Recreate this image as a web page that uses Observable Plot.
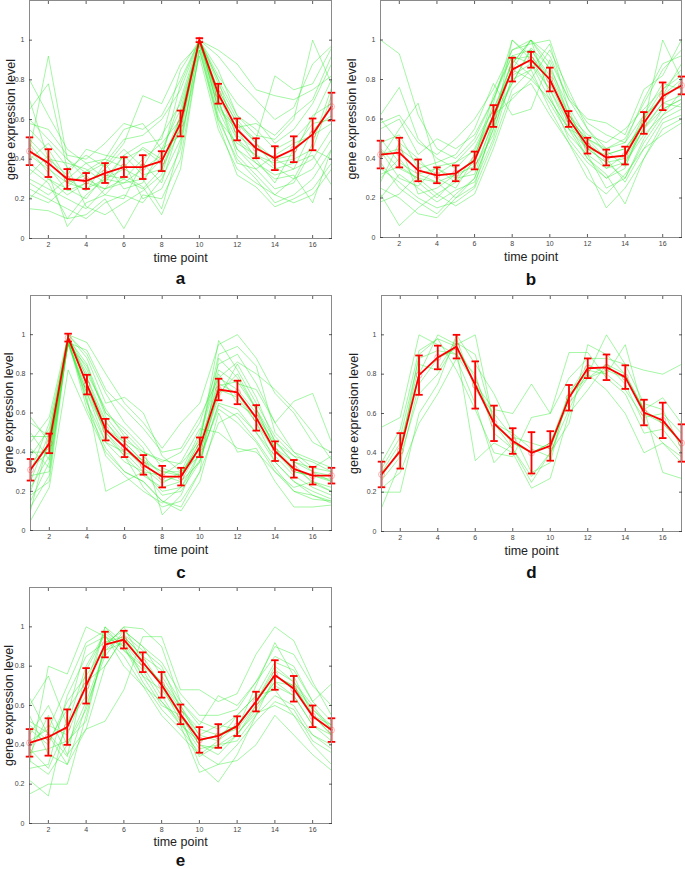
<!DOCTYPE html>
<html>
<head>
<meta charset="utf-8">
<script src="https://cdn.jsdelivr.net/npm/d3@7"></script>
<script src="https://cdn.jsdelivr.net/npm/@observablehq/plot@0.6"></script>
<style>
  html, body { margin: 0; padding: 0; background: #fff; }
  #root { position: relative; width: 685px; height: 869px; overflow: hidden; font-family: "Liberation Sans", Arial, sans-serif; }
  .panel { position: absolute; }
</style>
</head>
<body>
<div id="root"></div>
<script>
// ---------- data ----------
const timePoints = [1,2,3,4,5,6,7,8,9,10,11,12,13,14,15,16,17];
const xTicks = [2,4,6,8,10,12,14,16];
const yTicks = [0,0.2,0.4,0.6,0.8,1];
const panelLetters = ["a","b","c","d","e"];
const xLabel = "time point";
const yLabel = "gene expression level";

const aLines = [
  [0.80,0.62,0.45,0.38,0.30,0.42,0.48,0.50,0.85,1.00,0.92,0.80,0.70,0.60,0.66,0.88,0.97],
  [0.44,0.92,0.40,0.30,0.25,0.28,0.35,0.42,0.70,1.00,0.85,0.62,0.55,0.45,0.50,0.60,0.80],
  [0.65,0.78,0.35,0.42,0.36,0.48,0.72,0.68,0.88,0.98,0.75,0.58,0.50,0.82,0.75,0.78,0.96],
  [0.30,0.25,0.20,0.15,0.25,0.30,0.25,0.35,0.55,1.00,0.70,0.45,0.38,0.32,0.35,0.40,0.55],
  [0.15,0.14,0.10,0.12,0.20,0.05,0.22,0.20,0.40,0.95,0.60,0.40,0.30,0.18,0.22,0.30,0.45],
  [0.55,0.45,0.30,0.38,0.40,0.55,0.58,0.45,0.65,1.00,0.80,0.50,0.42,0.38,0.40,0.45,0.72],
  [0.38,0.30,0.25,0.20,0.32,0.30,0.40,0.48,0.60,1.00,0.65,0.55,0.40,0.28,0.45,0.58,0.60],
  [0.25,0.20,0.15,0.10,0.18,0.22,0.18,0.30,0.50,0.92,0.55,0.35,0.28,0.22,0.30,0.35,0.50],
  [0.60,0.50,0.40,0.33,0.38,0.50,0.52,0.60,0.75,1.00,0.82,0.68,0.60,0.48,0.55,0.68,0.88],
  [0.42,0.35,0.28,0.25,0.30,0.35,0.30,0.40,0.55,1.00,0.72,0.52,0.45,0.40,0.42,0.62,0.68],
  [0.20,0.30,0.22,0.28,0.25,0.38,0.20,0.25,0.45,1.00,0.65,0.45,0.35,0.25,0.28,0.45,0.40],
  [0.70,0.40,0.32,0.45,0.42,0.40,0.45,0.38,0.62,1.00,0.80,0.62,0.52,0.50,0.60,1.00,0.78],
  [0.35,0.28,0.10,0.22,0.30,0.28,0.30,0.15,0.48,0.97,0.60,0.48,0.42,0.35,0.38,0.42,0.27],
  [0.50,0.40,0.38,0.35,0.28,0.42,0.32,0.35,0.60,1.00,0.75,0.58,0.48,0.40,0.35,0.55,0.62],
  [0.28,0.22,0.30,0.24,0.38,0.25,0.28,0.45,0.52,1.00,0.68,0.50,0.38,0.30,0.32,0.18,0.45],
  [0.45,0.33,0.06,0.18,0.22,0.32,0.26,0.12,0.35,0.95,0.58,0.32,0.26,0.16,0.20,0.25,0.38],
  [0.58,0.55,0.42,0.40,0.48,0.58,0.55,0.62,0.80,1.00,0.95,0.88,0.75,0.72,0.70,0.75,0.82],
  [0.32,0.42,0.28,0.32,0.22,0.20,0.38,0.28,0.58,1.00,0.70,0.42,0.32,0.22,0.18,0.22,0.35],
  [0.48,0.36,0.24,0.28,0.35,0.45,0.36,0.52,0.68,0.98,0.62,0.38,0.35,0.42,0.48,0.52,0.58],
  [0.40,0.48,0.36,0.16,0.12,0.18,0.24,0.32,0.62,1.00,0.78,0.60,0.48,0.36,0.30,0.48,0.76],
  [0.22,0.18,0.26,0.34,0.40,0.36,0.46,0.40,0.78,1.00,0.66,0.56,0.58,0.52,0.62,0.70,0.92]
];
const aMean = [0.44,0.38,0.30,0.29,0.33,0.36,0.36,0.39,0.58,1.00,0.73,0.55,0.455,0.405,0.45,0.525,0.665];
const aErr  = [0.07,0.07,0.05,0.04,0.05,0.05,0.06,0.05,0.065,0.01,0.05,0.055,0.05,0.06,0.065,0.08,0.07];

const bLines = [
  [1.00,0.93,0.62,0.45,0.40,0.50,0.70,0.95,1.00,0.92,0.70,0.55,0.45,0.50,0.68,0.85,0.95],
  [0.62,0.76,0.50,0.40,0.35,0.45,0.65,0.88,1.00,0.85,0.62,0.48,0.40,0.42,0.60,0.72,0.80],
  [0.40,0.55,0.68,0.35,0.30,0.38,0.62,0.90,0.92,0.78,0.58,0.45,0.38,0.40,0.55,0.68,0.72],
  [0.25,0.20,0.12,0.10,0.20,0.30,0.55,0.80,0.85,0.98,0.65,0.42,0.35,0.38,0.55,0.65,0.70],
  [0.45,0.35,0.30,0.28,0.32,0.40,0.68,1.00,0.90,0.75,0.55,0.40,0.30,0.35,0.60,0.75,0.85],
  [0.22,0.06,0.15,0.22,0.28,0.35,0.58,0.78,0.95,0.80,0.60,0.50,0.40,0.28,0.45,0.60,0.65],
  [0.60,0.48,0.40,0.30,0.25,0.40,0.72,0.92,0.88,0.70,0.55,0.45,0.42,0.45,0.58,1.00,0.80],
  [0.30,0.40,0.28,0.20,0.30,0.32,0.60,0.85,1.00,0.88,0.62,0.48,0.35,0.42,0.62,0.70,0.78],
  [0.48,0.52,0.35,0.38,0.42,0.55,0.78,0.62,0.65,0.90,0.70,0.60,0.58,0.52,0.75,0.82,1.00],
  [0.35,0.28,0.20,0.15,0.18,0.25,0.48,0.75,0.85,0.65,0.48,0.35,0.15,0.25,0.40,0.55,0.60],
  [0.42,0.45,0.38,0.32,0.38,0.48,0.65,0.85,0.80,0.70,0.55,0.50,0.45,0.48,0.62,0.78,0.75],
  [0.55,0.60,0.42,0.50,0.45,0.52,0.70,0.92,0.95,0.82,0.62,0.52,0.48,0.55,0.65,0.75,0.82],
  [0.20,0.32,0.25,0.18,0.24,0.28,0.50,0.82,0.88,0.75,0.58,0.40,0.32,0.17,0.40,0.58,0.62],
  [0.38,0.25,0.18,0.12,0.22,0.30,0.55,1.00,0.92,0.80,0.60,0.45,0.38,0.30,0.50,0.65,0.70],
  [0.50,0.38,0.32,0.35,0.28,0.42,0.62,0.70,0.80,0.95,0.75,0.55,0.42,0.45,0.58,0.72,0.88],
  [0.28,0.48,0.22,0.25,0.32,0.36,0.52,0.88,1.00,0.72,0.50,0.38,0.30,0.38,0.52,0.62,0.68],
  [0.32,0.36,0.30,0.22,0.16,0.22,0.45,0.72,0.78,0.62,0.48,0.30,0.22,0.32,0.45,0.52,0.58],
  [0.58,0.62,0.48,0.42,0.50,0.60,0.75,0.95,0.98,1.00,0.72,0.58,0.52,0.48,0.70,0.88,0.92],
  [0.18,0.22,0.32,0.28,0.20,0.26,0.58,0.90,0.82,0.68,0.52,0.42,0.25,0.30,0.48,0.62,0.74],
  [0.44,0.30,0.26,0.36,0.38,0.44,0.62,0.78,0.96,0.86,0.66,0.50,0.44,0.36,0.56,0.68,0.66]
];
const bMean = [0.42,0.43,0.34,0.315,0.325,0.39,0.615,0.85,0.90,0.80,0.60,0.465,0.405,0.415,0.58,0.715,0.77];
const bErr  = [0.07,0.075,0.055,0.04,0.04,0.045,0.055,0.06,0.04,0.06,0.04,0.04,0.04,0.045,0.055,0.07,0.045];

const cLines = [
  [0.58,0.45,1.00,0.96,0.80,0.65,0.55,0.42,0.55,0.65,0.95,1.00,0.88,0.70,0.60,0.45,0.40],
  [0.30,0.55,0.98,0.85,0.60,0.50,0.40,0.35,0.40,0.55,0.85,0.90,0.75,0.55,0.40,0.32,0.30],
  [0.05,0.22,0.82,0.60,0.40,0.30,0.25,0.15,0.12,0.30,0.55,0.60,0.50,0.35,0.25,0.18,0.15],
  [0.20,0.45,0.98,0.75,0.55,0.45,0.35,0.30,0.28,0.45,0.75,0.70,0.55,0.40,0.30,0.28,0.25],
  [0.40,0.40,0.95,0.70,0.45,0.40,0.30,0.20,0.22,0.40,0.70,0.80,0.62,0.42,0.32,0.25,0.22],
  [0.25,0.50,1.00,0.88,0.65,0.68,0.60,0.38,0.30,0.50,0.82,0.75,0.72,0.55,0.66,0.70,0.45],
  [0.15,0.35,0.96,0.72,0.50,0.38,0.28,0.22,0.25,0.35,0.65,0.62,0.50,0.38,0.28,0.22,0.18],
  [0.35,0.42,0.98,0.80,0.62,0.48,0.38,0.28,0.25,0.42,0.78,0.72,0.60,0.42,0.35,0.30,0.28],
  [0.48,0.48,0.95,0.68,0.20,0.25,0.30,0.18,0.20,0.35,0.72,0.68,0.55,0.35,0.25,0.20,0.16],
  [0.22,0.38,0.98,0.78,0.52,0.45,0.35,0.25,0.28,0.48,0.80,0.65,0.58,0.45,0.35,0.32,0.38],
  [0.55,0.48,0.97,0.65,0.45,0.35,0.30,0.28,0.35,0.52,0.50,0.42,0.40,0.30,0.20,0.18,0.14],
  [0.28,0.30,0.99,0.82,0.60,0.52,0.42,0.08,0.18,0.40,0.68,0.85,0.68,0.45,0.38,0.35,0.30],
  [0.38,0.52,0.96,0.70,0.50,0.40,0.36,0.30,0.30,0.38,0.62,0.55,0.45,0.30,0.22,0.25,0.20],
  [0.12,0.28,0.98,0.74,0.48,0.38,0.22,0.12,0.15,0.30,0.88,0.78,0.62,0.42,0.30,0.28,0.26],
  [0.45,0.58,1.00,0.90,0.70,0.55,0.45,0.32,0.28,0.45,0.97,0.82,0.65,0.48,0.38,0.30,0.25],
  [0.18,0.25,0.97,0.62,0.42,0.30,0.25,0.15,0.10,0.25,0.60,0.40,0.42,0.25,0.12,0.12,0.13],
  [0.42,0.32,0.96,0.92,0.72,0.62,0.52,0.40,0.42,0.58,0.78,0.86,0.80,0.72,0.62,0.50,0.36],
  [0.32,0.40,0.98,0.66,0.38,0.28,0.20,0.14,0.22,0.36,0.64,0.58,0.46,0.32,0.20,0.16,0.15],
  [0.10,0.48,0.95,0.84,0.58,0.46,0.40,0.36,0.34,0.46,0.90,0.94,0.84,0.50,0.40,0.36,0.32],
  [0.50,0.36,0.99,0.78,0.56,0.42,0.32,0.24,0.30,0.42,0.74,0.76,0.62,0.46,0.34,0.24,0.20]
];
const cMean = [0.31,0.445,0.985,0.745,0.515,0.425,0.335,0.275,0.275,0.425,0.72,0.705,0.575,0.405,0.315,0.28,0.28];
const cErr  = [0.055,0.05,0.02,0.05,0.055,0.05,0.05,0.055,0.045,0.05,0.055,0.06,0.065,0.05,0.045,0.045,0.04];

const dLines = [
  [0.53,0.58,1.00,0.95,0.90,0.75,0.62,0.60,0.75,0.60,0.78,0.88,0.88,0.85,0.82,0.80,0.85],
  [0.30,0.45,0.80,1.00,0.95,1.00,0.55,0.45,0.40,0.45,0.70,0.85,0.80,0.95,0.60,0.55,0.45],
  [0.20,0.20,0.60,0.75,1.00,0.85,0.70,0.50,0.30,0.35,0.72,0.80,1.00,0.85,0.65,0.62,0.42],
  [0.12,0.35,0.75,0.88,0.93,0.36,0.45,0.40,0.22,0.27,0.60,0.72,0.85,0.75,0.55,0.45,0.38],
  [0.35,0.52,0.92,0.98,0.82,0.62,0.40,0.38,0.58,0.60,0.91,0.91,0.78,0.70,0.50,0.52,0.40],
  [0.26,0.38,0.70,0.80,0.96,0.90,0.55,0.42,0.28,0.40,0.55,0.95,0.90,0.80,0.62,0.30,0.27],
  [0.28,0.42,0.85,0.82,0.98,0.72,0.60,0.48,0.45,0.42,0.68,0.80,0.72,0.60,0.40,0.45,0.35],
  [0.22,0.30,0.55,0.70,0.88,0.65,0.35,0.45,0.40,0.45,0.65,0.78,0.82,0.78,0.62,0.68,0.55],
  [0.32,0.48,0.88,0.92,0.90,0.80,0.50,0.42,0.25,0.40,0.62,0.82,0.80,0.72,0.58,0.60,0.50],
  [0.30,0.40,0.90,0.98,0.94,0.78,0.55,0.50,0.42,0.38,0.70,0.78,0.85,0.80,0.62,0.55,0.45]
];
const dMean = [0.29,0.41,0.795,0.885,0.94,0.745,0.55,0.46,0.40,0.435,0.68,0.83,0.835,0.785,0.605,0.565,0.45];
const dErr  = [0.065,0.09,0.10,0.06,0.06,0.12,0.09,0.065,0.105,0.075,0.065,0.05,0.065,0.06,0.065,0.09,0.095];

const eLines = [
  [0.64,0.45,0.30,0.48,0.52,0.68,0.95,0.95,0.68,0.68,0.62,0.66,0.86,1.00,0.93,0.72,0.55],
  [0.30,0.80,0.76,1.00,0.95,0.90,0.75,0.60,0.55,0.40,0.35,0.45,0.60,0.70,0.65,0.50,0.45],
  [0.15,0.20,0.20,0.55,0.90,1.00,0.82,0.70,0.55,0.30,0.21,0.35,0.55,0.75,0.70,0.55,0.50],
  [0.40,0.50,0.45,0.70,1.00,0.92,0.80,0.65,0.50,0.42,0.45,0.50,0.62,0.80,0.72,0.60,0.48],
  [0.55,0.35,0.30,0.60,0.85,0.98,0.90,0.75,0.60,0.45,0.50,0.48,0.70,0.92,0.75,0.55,0.45],
  [0.22,0.14,0.55,0.90,0.95,0.85,0.70,0.55,0.45,0.35,0.42,0.55,0.65,0.68,0.55,0.40,0.30],
  [0.48,0.40,0.62,0.75,0.90,1.00,0.99,0.90,0.62,0.50,0.65,0.60,0.72,0.85,0.80,0.62,0.71],
  [0.35,0.55,0.35,0.48,0.80,0.95,0.85,0.70,0.52,0.38,0.40,0.42,0.55,0.65,0.60,0.45,0.40],
  [0.60,0.75,0.50,0.65,1.00,0.88,0.78,0.62,0.50,0.26,0.30,0.32,0.40,0.55,0.45,0.35,0.27],
  [0.28,0.30,0.65,0.85,0.92,0.95,0.82,0.72,0.58,0.48,0.45,0.50,0.62,0.78,0.72,0.58,0.50],
  [0.45,0.60,0.40,0.62,0.88,0.92,0.75,0.68,0.55,0.40,0.38,0.45,0.58,0.72,0.65,0.50,0.42],
  [0.38,0.28,0.50,0.80,0.97,0.88,0.80,0.72,0.60,0.42,0.45,0.48,0.60,0.72,0.70,0.58,0.48],
  [0.50,0.42,0.58,0.72,0.80,0.95,0.85,0.78,0.62,0.52,0.48,0.55,0.65,0.82,0.78,0.62,0.52],
  [0.32,0.25,0.40,0.58,0.88,0.96,0.88,0.80,0.58,0.45,0.42,0.50,0.62,0.75,0.70,0.55,0.45],
  [0.42,0.48,0.70,0.92,0.98,0.90,0.72,0.58,0.48,0.36,0.30,0.40,0.52,0.62,0.58,0.42,0.36],
  [0.36,0.38,0.42,0.52,0.92,0.98,0.90,0.82,0.66,0.55,0.55,0.58,0.72,0.90,0.86,0.70,0.60],
  [0.52,0.46,0.34,0.78,0.96,0.80,0.70,0.62,0.52,0.34,0.40,0.46,0.56,0.60,0.55,0.45,0.38]
];
const eMean = [0.41,0.44,0.49,0.70,0.91,0.935,0.82,0.705,0.555,0.425,0.445,0.495,0.62,0.755,0.685,0.545,0.475];
const eErr  = [0.07,0.095,0.09,0.09,0.065,0.045,0.05,0.065,0.05,0.065,0.06,0.05,0.05,0.075,0.065,0.055,0.06];

// ---------- drawing ----------
const FONT = "Liberation Sans, Arial, sans-serif";

function panel(lines, mean, err, letter, g) {
  const green = lines.flatMap((row, id) => row.map((v, i) => ({id, t: timePoints[i], v})));
  const stats = mean.map((m, i) => ({t: timePoints[i], m, lo: m - err[i], hi: m + err[i]}));
  const capW = 0.2;
  const tickStyle = {stroke: "#333", strokeWidth: 0.8};
  const svg = Plot.plot({
    width: g.w, height: g.h,
    marginLeft: g.ml, marginRight: g.mr, marginTop: g.mt, marginBottom: g.mb,
    style: {fontFamily: FONT, background: "transparent", overflow: "visible"},
    x: {domain: [1, 17]},
    y: {domain: [0, 1.2]},
    marks: [
      Plot.line(green, {x: "t", y: "v", z: "id", stroke: "#30ea30", strokeWidth: 0.8, strokeOpacity: 0.55}),
      Plot.line(stats, {x: "t", y: "m", stroke: "#ff0000", strokeWidth: 1.8}),
      Plot.ruleX(stats, {x: "t", y1: "lo", y2: "hi", stroke: "#ff0000", strokeWidth: 1.8}),
      Plot.link(stats, {x1: d => d.t - capW, x2: d => d.t + capW, y1: "hi", y2: "hi", stroke: "#ff0000", strokeWidth: 1.8}),
      Plot.link(stats, {x1: d => d.t - capW, x2: d => d.t + capW, y1: "lo", y2: "lo", stroke: "#ff0000", strokeWidth: 1.8}),
      Plot.dot(stats, {x: "t", y: "m", r: 3, stroke: "#ff0000", strokeOpacity: 0.35, strokeWidth: 0.8}),
      Plot.frame({stroke: "#8a8a8a", strokeWidth: 1}),
      Plot.axisX({anchor: "bottom", ticks: xTicks, tickSize: 0, tickPadding: 4, fontSize: 7, color: "#444", label: null}),
      Plot.axisX({anchor: "bottom", ticks: xTicks, tickSize: -3, tickFormat: () => "", label: null, ...tickStyle}),
      Plot.axisX({anchor: "top", ticks: xTicks, tickSize: -3, tickFormat: () => "", label: null, ...tickStyle}),
      Plot.axisY({anchor: "left", ticks: yTicks, tickSize: 0, tickPadding: 5, fontSize: 7, color: "#444", label: null, tickFormat: d => String(+d.toFixed(1))}),
      Plot.axisY({anchor: "left", ticks: yTicks, tickSize: -3, tickFormat: () => "", label: null, ...tickStyle}),
      Plot.axisY({anchor: "right", ticks: yTicks, tickSize: -3, tickFormat: () => "", label: null, ...tickStyle}),
      Plot.text([xLabel], {frameAnchor: "bottom", dy: g.xdy, lineAnchor: "middle", textAnchor: "middle", fontSize: 12.5, fill: "#222"}),
      Plot.text([yLabel], {frameAnchor: "left", rotate: -90, dx: g.ydx, lineAnchor: "middle", textAnchor: "middle", fontSize: 12.5, fill: "#222"}),
      Plot.text([letter], {frameAnchor: "bottom", dy: g.ldy, lineAnchor: "middle", textAnchor: "middle", fontSize: 17, fontWeight: "bold", fill: "#111"})
    ]
  });
  const div = document.createElement("div");
  div.className = "panel";
  div.style.left = g.left + "px";
  div.style.top = g.top + "px";
  div.appendChild(svg);
  document.getElementById("root").appendChild(div);
}

panel(aLines, aMean, aErr, panelLetters[0], {left: 0,   top: -4,  w: 340, h: 290, ml: 29, mr: 9, mt: 4, mb: 48, xdy: 19, ydx: -19, ldy: 40});
panel(bLines, bMean, bErr, panelLetters[1], {left: 340, top: -4,  w: 345, h: 289, ml: 40, mr: 4, mt: 4, mb: 48, xdy: 19, ydx: -29, ldy: 42});
panel(cLines, cMean, cErr, panelLetters[2], {left: 0,   top: 291, w: 340, h: 287, ml: 30, mr: 9, mt: 4, mb: 48, xdy: 19, ydx: -22, ldy: 42});
panel(dLines, dMean, dErr, panelLetters[3], {left: 340, top: 291, w: 345, h: 288, ml: 41, mr: 4, mt: 4, mb: 48, xdy: 19, ydx: -28, ldy: 41});
panel(eLines, eMean, eErr, panelLetters[4], {left: 0,   top: 583, w: 340, h: 288, ml: 29, mr: 9, mt: 4, mb: 48, xdy: 18, ydx: -21, ldy: 37});
</script>
</body>
</html>
